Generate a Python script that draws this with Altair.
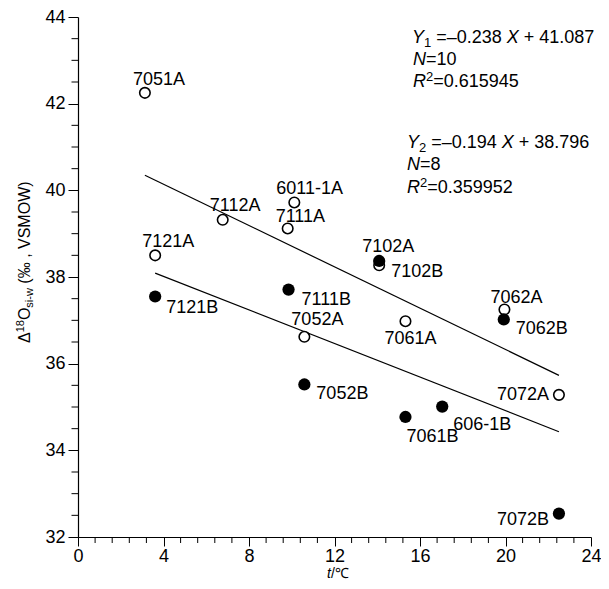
import altair as alt
import pandas as pd

# ---------------- data ----------------
open_labels = ["7051A", "7112A", "6011-1A", "7111A", "7121A", "7102A", "7052A", "7061A", "7062A", "7072A"]
open_t = [3.13, 6.77, 10.12, 9.81, 3.61, 14.09, 10.59, 15.32, 19.95, 22.50]
open_d = [42.25, 39.32, 39.72, 39.12, 38.50, 38.27, 36.62, 36.98, 37.25, 35.28]

filled_labels = ["7121B", "7111B", "7102B", "7052B", "7061B", "606-1B", "7062B", "7072B"]
filled_t = [3.61, 9.85, 14.09, 10.59, 15.32, 17.04, 19.92, 22.50]
filled_d = [37.55, 37.71, 38.37, 35.52, 34.77, 35.01, 37.02, 32.54]

fit1_t = [3.13, 22.50]
fit1_d = [40.35, 35.73]
fit2_t = [3.61, 22.50]
fit2_d = [38.09, 34.43]

x_major = [0, 4, 8, 12, 16, 20, 24]
x_minor = [0.8, 1.6, 2.4, 3.2, 4.8, 5.6, 6.4, 7.2, 8.8, 9.6, 10.4, 11.2,
           12.8, 13.6, 14.4, 15.2, 16.8, 17.6, 18.4, 19.2, 20.8, 21.6, 22.4, 23.2]
y_major = [32, 34, 36, 38, 40, 42, 44]
y_minor = [32.5, 33, 33.5, 34.5, 35, 35.5, 36.5, 37, 37.5, 38.5, 39, 39.5,
           40.5, 41, 41.5, 42.5, 43, 43.5]

eq1 = [("Y", "i"), ("1", "sub"), (" =\u20130.238 ", "n"), ("X", "i"), (" + 41.087", "n")]
eq1_n = [("N", "i"), ("=10", "n")]
eq1_r = [("R", "i"), ("2", "sup"), ("=0.615945", "n")]
eq2 = [("Y", "i"), ("2", "sub"), (" =\u20130.194 ", "n"), ("X", "i"), (" + 38.796", "n")]
eq2_n = [("N", "i"), ("=8", "n")]
eq2_r = [("R", "i"), ("2", "sup"), ("=0.359952", "n")]
y_title = [("\u0394", "n"), ("18", "sup"), ("O", "n"), ("si-w", "sub"), (" (\u2030 , VSMOW)", "n")]
x_title = [("t", "i"), ("/\u2103", "n")]

# ---------------- layout / style ----------------
FONT = "Liberation Sans"
W, H = 513, 520
LABEL_FS = 18

# label placement (dx, dy, align) relative to the point
label_pos = {
    "7051A": (-12, -8, "left"), "7112A": (-13, -9, "left"), "6011-1A": (-18, -8, "left"),
    "7111A": (-12, -6, "left"), "7121A": (-13, -8, "left"), "7102A": (-17, -13, "left"),
    "7052A": (-13, -12, "left"), "7061A": (-21, 23, "left"), "7062A": (-14, -7, "left"),
    "7072A": (-10, 5, "right"),
    "7121B": (11, 16, "left"), "7111B": (13, 15, "left"), "7102B": (12, 16, "left"),
    "7052B": (12, 15, "left"), "7061B": (1, 25, "left"), "606-1B": (11, 23, "left"),
    "7062B": (12, 15, "left"), "7072B": (-10, 11, "right"),
}

AW = {str(d): 0.556 for d in range(10)}
AW.update({".": 0.278, " ": 0.278, "=": 0.584, "+": 0.584, "\u2013": 0.556, "Y": 0.667,
           "X": 0.667, "N": 0.722, "R": 0.722, "t": 0.278, "/": 0.278, "\u0394": 0.668,
           "O": 0.778, "s": 0.5, "i": 0.222, "-": 0.333, "w": 0.722, "(": 0.333, ")": 0.333,
           "\u2030": 1.0, ",": 0.278, "V": 0.667, "S": 0.667, "M": 0.833, "W": 0.944})


def text_width(s, size):
    return sum(AW.get(c, 0.556) for c in s) * size


dummy = pd.DataFrame({"a": [0]})


def segments(parts, px, py, big, small, sub_dy, sup_dy, angle=0):
    layers = []
    off = 0.0
    for txt, st in parts:
        size = small if st in ("sub", "sup") else big
        dy = sub_dy if st == "sub" else (sup_dy if st == "sup" else 0)
        lead = len(txt) - len(txt.lstrip(" "))
        shown = txt.strip(" ")
        kw = dict(text=shown, align="left", baseline="alphabetic",
                  dx=off + lead * AW[" "] * size, dy=dy,
                  fontSize=size, font=FONT, color="black",
                  fontStyle="italic" if st == "i" else "normal")
        if angle:
            kw["angle"] = angle
        layers.append(alt.Chart(dummy).mark_text(**kw).encode(x=alt.value(px), y=alt.value(py)))
        off += text_width(txt, size)
    return layers


xs = alt.Scale(domain=[0, 24], nice=False, zero=False)
ys = alt.Scale(domain=[32, 44], nice=False, zero=False)

x_axis = alt.Axis(values=x_major, title=None, grid=False, labelFont=FONT, labelFontSize=18,
                  labelColor="black", tickSize=9, tickColor="black", tickWidth=1,
                  domainColor="black", domainWidth=1.2, labelPadding=1, labelFlush=False,
                  labelOverlap=False)
y_axis = alt.Axis(values=y_major, title=None, grid=False, labelFont=FONT, labelFontSize=18,
                  labelColor="black", tickSize=10, tickColor="black", tickWidth=1,
                  domainColor="black", domainWidth=1.2, labelPadding=3, labelFlush=False,
                  labelOverlap=False)


def X(f):
    return alt.X(f, scale=xs, axis=x_axis)


def Y(f):
    return alt.Y(f, scale=ys, axis=y_axis)


open_df = pd.DataFrame({"t": open_t, "d": open_d, "label": open_labels})
filled_df = pd.DataFrame({"t": filled_t, "d": filled_d, "label": filled_labels})
fit1_df = pd.DataFrame({"t": fit1_t, "d": fit1_d})
fit2_df = pd.DataFrame({"t": fit2_t, "d": fit2_d})
all_df = pd.concat([open_df, filled_df], ignore_index=True)

layers = []

# fitted lines
layers.append(alt.Chart(fit1_df).mark_line(color="black", strokeWidth=1.2).encode(x=X("t:Q"), y=Y("d:Q")))
layers.append(alt.Chart(fit2_df).mark_line(color="black", strokeWidth=1.2).encode(x=X("t:Q"), y=Y("d:Q")))

# minor ticks
layers.append(
    alt.Chart(pd.DataFrame({"t": x_minor})).mark_rule(color="black", strokeWidth=1).encode(
        x=X("t:Q"), y=alt.value(H), y2=alt.value(H + 6))
)
layers.append(
    alt.Chart(pd.DataFrame({"d": y_minor})).mark_rule(color="black", strokeWidth=1).encode(
        y=Y("d:Q"), x=alt.value(0), x2=alt.value(-6.5))
)

# points
layers.append(
    alt.Chart(open_df).mark_point(shape="circle", filled=True, fill="white", stroke="black",
                                  strokeWidth=1.6, size=110, opacity=1).encode(x=X("t:Q"), y=Y("d:Q"))
)
layers.append(
    alt.Chart(filled_df).mark_circle(color="black", size=150, opacity=1).encode(x=X("t:Q"), y=Y("d:Q"))
)

# point labels
for lab, (dx, dy, al) in label_pos.items():
    layers.append(
        alt.Chart(all_df).transform_filter(alt.datum.label == lab).mark_text(
            align=al, baseline="alphabetic", dx=dx, dy=dy, fontSize=LABEL_FS, font=FONT,
            color="black").encode(x=X("t:Q"), y=Y("d:Q"), text="label:N")
    )

# regression equations
for parts, px, py in [(eq1, 334, 26), (eq1_n, 335, 48), (eq1_r, 335, 70),
                      (eq2, 329, 131), (eq2_n, 329, 153), (eq2_r, 329, 176)]:
    layers += segments(parts, px, py, 18, 13, 4, -6)

# axis titles
layers += segments(y_title, -48, 326, 16, 11, 3, -6, angle=270)
layers += segments(x_title, 249, 561, 14, 10, 3, -6)

chart = alt.layer(*layers).properties(
    width=W, height=H,
    autosize=alt.AutoSizeParams(type="none"),
    padding={"left": 70, "top": 9, "right": 10, "bottom": 44},
    background="white",
).configure_view(stroke=None)

chart.save("out.html", embed_options={"renderer": "svg", "actions": False})
